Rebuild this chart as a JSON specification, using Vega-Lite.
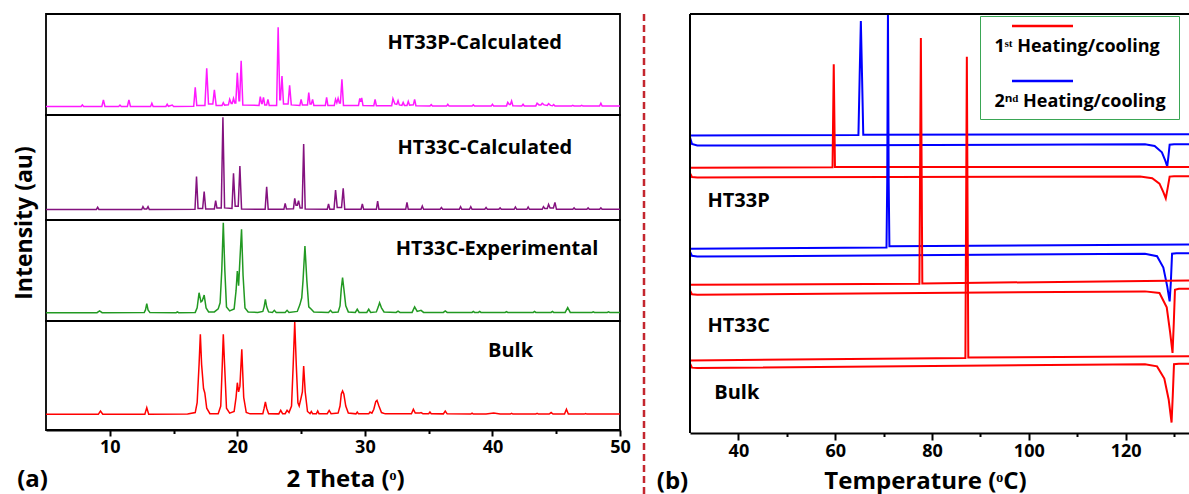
{
  "$schema": "https://vega.github.io/schema/vega-lite/v6.json",
  "padding": {"left": 12, "top": 0, "right": 0, "bottom": 0},
  "config": {
    "font": "Open Sans",
    "view": {"stroke": "#000", "strokeWidth": 1.8},
    "axis": {
      "labelFont": "Open Sans", "labelFontWeight": "bold", "labelFontSize": 18, "labelColor": "#000",
      "titleFont": "Open Sans", "titleFontWeight": "bold", "titleFontSize": 23, "titleColor": "#000",
      "domainColor": "#000", "domainWidth": 2, "tickColor": "#000", "tickWidth": 2,
      "grid": false, "labelFlush": false, "labelOverlap": false
    },
    "text": {"font": "Open Sans", "fontWeight": "bold", "fontSize": 20, "color": "#000"}
  },
  "datasets": {
    "ht33p_calculated": [
      {"t":5,"i":8.5},{"t":7.75,"i":8.5},{"t":7.85,"i":10},{"t":7.95,"i":8.5},{"t":9.38,"i":8.5},{"t":9.5,"i":15},{"t":9.62,"i":8.5},
      {"t":10.7,"i":8.5},{"t":10.8,"i":9.8},{"t":10.9,"i":8.5},{"t":11.38,"i":8.5},{"t":11.5,"i":15},{"t":11.62,"i":8.5},
      {"t":13.2,"i":8.5},{"t":13.3,"i":11.6},{"t":13.4,"i":8.5},{"t":14.4,"i":8.5},{"t":14.5,"i":10.6},{"t":14.6,"i":8.6},{"t":14.9,"i":9.8},{"t":15.0,"i":8.5},
      {"t":16.58,"i":8.6},{"t":16.7,"i":27.4},{"t":16.82,"i":9.5},{"t":17.46,"i":9.5},{"t":17.6,"i":46.2},{"t":17.74,"i":11},{"t":18.08,"i":11},{"t":18.2,"i":24.8},{"t":18.34,"i":9.5},
      {"t":18.8,"i":9.5},{"t":18.9,"i":12.2},{"t":19.0,"i":9.8},{"t":19.3,"i":10},{"t":19.4,"i":15.5},{"t":19.52,"i":11.5},{"t":19.6,"i":11.5},{"t":19.7,"i":16.5},{"t":19.8,"i":12},{"t":19.88,"i":12},
      {"t":20.0,"i":41.9},{"t":20.13,"i":14},{"t":20.18,"i":14},{"t":20.3,"i":53.8},{"t":20.43,"i":9.8},
      {"t":21.7,"i":9.5},{"t":21.8,"i":18.2},{"t":21.9,"i":11.5},{"t":21.95,"i":11.5},{"t":22.05,"i":17.5},{"t":22.15,"i":10},{"t":22.3,"i":10},{"t":22.4,"i":15.5},{"t":22.5,"i":9.5},
      {"t":23.08,"i":9.5},{"t":23.2,"i":86.8},{"t":23.33,"i":15},{"t":23.38,"i":15},{"t":23.5,"i":38.6},{"t":23.62,"i":11},{"t":23.98,"i":11},{"t":24.1,"i":29.4},{"t":24.23,"i":10},
      {"t":24.9,"i":9.5},{"t":25.0,"i":15.5},{"t":25.1,"i":10},{"t":25.5,"i":10},{"t":25.6,"i":22.1},{"t":25.7,"i":11},{"t":25.8,"i":11},{"t":25.9,"i":15.5},{"t":26.0,"i":9.5},
      {"t":26.9,"i":9.5},{"t":27.0,"i":17.5},{"t":27.1,"i":9.5},{"t":27.6,"i":9.5},{"t":27.7,"i":15.5},{"t":27.8,"i":12},{"t":27.9,"i":16.5},{"t":28.0,"i":12},{"t":28.08,"i":12},{"t":28.2,"i":35.3},{"t":28.32,"i":9.5},
      {"t":29.5,"i":9.5},{"t":29.6,"i":16.5},{"t":29.68,"i":13},{"t":29.75,"i":17},{"t":29.85,"i":9.5},{"t":30.7,"i":9.2},{"t":30.8,"i":15.5},{"t":30.9,"i":9.2},
      {"t":32.1,"i":9.2},{"t":32.2,"i":16.2},{"t":32.35,"i":11},{"t":32.5,"i":10.5},{"t":32.6,"i":14.2},{"t":32.7,"i":10},{"t":32.9,"i":9.5},{"t":33.0,"i":12.5},{"t":33.1,"i":9.5},
      {"t":33.3,"i":9.5},{"t":33.4,"i":13.5},{"t":33.5,"i":9.8},{"t":33.8,"i":10},{"t":33.9,"i":15.5},{"t":34.0,"i":9.2},{"t":35.1,"i":8.8},{"t":35.2,"i":10.2},{"t":35.3,"i":8.8},
      {"t":36.4,"i":8.8},{"t":36.5,"i":10.6},{"t":36.6,"i":8.8},{"t":38.4,"i":8.8},{"t":38.5,"i":10},{"t":38.6,"i":8.8},{"t":39.9,"i":8.8},{"t":40.0,"i":10.6},{"t":40.1,"i":8.8},
      {"t":41.1,"i":9},{"t":41.2,"i":12.5},{"t":41.32,"i":10.5},{"t":41.4,"i":10.5},{"t":41.5,"i":13.9},{"t":41.6,"i":9.2},{"t":42.3,"i":9},{"t":42.4,"i":10.6},{"t":42.5,"i":9},
      {"t":43.4,"i":9},{"t":43.5,"i":11.6},{"t":43.65,"i":10},{"t":43.8,"i":10},{"t":43.9,"i":11.6},{"t":44.05,"i":10},{"t":44.3,"i":9.5},{"t":44.4,"i":11.3},{"t":44.55,"i":9.5},
      {"t":44.7,"i":9.2},{"t":44.8,"i":10.3},{"t":44.9,"i":9},{"t":46.2,"i":8.8},{"t":46.3,"i":9.6},{"t":46.4,"i":8.8},{"t":46.9,"i":8.8},{"t":47.0,"i":9.6},{"t":47.1,"i":8.8},
      {"t":48.4,"i":8.8},{"t":48.5,"i":11.6},{"t":48.6,"i":8.8},{"t":50,"i":8.8}
    ],
    "ht33c_calculated": [
      {"t":5,"i":10},{"t":8.95,"i":10},{"t":9.05,"i":12.1},{"t":9.15,"i":10},{"t":12.5,"i":10},{"t":12.6,"i":12.7},{"t":12.7,"i":10.5},{"t":12.9,"i":10.5},{"t":13.0,"i":12.7},{"t":13.1,"i":10},
      {"t":16.68,"i":10.2},{"t":16.8,"i":41.3},{"t":16.92,"i":11},{"t":17.28,"i":11},{"t":17.4,"i":27},{"t":17.52,"i":10.5},{"t":18.2,"i":10.5},{"t":18.3,"i":18.4},{"t":18.4,"i":11.5},
      {"t":18.74,"i":11.5},{"t":18.87,"i":97.8},{"t":19.0,"i":11.5},{"t":19.58,"i":11},{"t":19.7,"i":44.4},{"t":19.83,"i":13},{"t":20.07,"i":13},{"t":20.2,"i":51.4},{"t":20.33,"i":10.5},
      {"t":22.18,"i":10.2},{"t":22.3,"i":31.7},{"t":22.42,"i":10.2},{"t":23.65,"i":10.2},{"t":23.75,"i":15.9},{"t":23.85,"i":10.5},{"t":24.4,"i":10.8},{"t":24.5,"i":20.6},{"t":24.6,"i":14},
      {"t":24.7,"i":14},{"t":24.8,"i":18.4},{"t":24.92,"i":11.5},{"t":25.08,"i":11.5},{"t":25.2,"i":72.4},{"t":25.32,"i":10.5},{"t":27.05,"i":10.2},{"t":27.15,"i":15.2},{"t":27.25,"i":10.2},
      {"t":27.58,"i":10.2},{"t":27.7,"i":28.6},{"t":27.83,"i":12},{"t":28.17,"i":12},{"t":28.3,"i":30.2},{"t":28.42,"i":10.2},{"t":29.7,"i":10.2},{"t":29.8,"i":15.2},{"t":29.9,"i":10.2},
      {"t":30.9,"i":10.2},{"t":31.0,"i":18.1},{"t":31.1,"i":10.2},{"t":33.2,"i":10.2},{"t":33.3,"i":16.8},{"t":33.4,"i":10.2},{"t":34.4,"i":10.2},{"t":34.5,"i":13.3},{"t":34.6,"i":10.2},
      {"t":35.9,"i":10.2},{"t":36.0,"i":11.8},{"t":36.1,"i":10.2},{"t":37.4,"i":10.2},{"t":37.5,"i":12.7},{"t":37.6,"i":10.2},{"t":38.2,"i":10.2},{"t":38.3,"i":12.7},{"t":38.4,"i":10.2},
      {"t":39.4,"i":10.2},{"t":39.5,"i":11.8},{"t":39.6,"i":10.2},{"t":40.5,"i":10.2},{"t":40.6,"i":11.5},{"t":40.7,"i":10.2},{"t":41.7,"i":10.2},{"t":41.8,"i":12.4},{"t":41.9,"i":10.2},
      {"t":42.7,"i":10.2},{"t":42.8,"i":12.4},{"t":42.9,"i":10.2},{"t":43.9,"i":10.2},{"t":44.0,"i":12.7},{"t":44.1,"i":11},{"t":44.3,"i":11},{"t":44.4,"i":14.9},{"t":44.52,"i":11.5},
      {"t":44.78,"i":11.5},{"t":44.9,"i":16.8},{"t":45.02,"i":10.2},{"t":46.3,"i":10.2},{"t":46.4,"i":11.5},{"t":46.5,"i":10.2},{"t":47.4,"i":10.2},{"t":47.5,"i":11.5},{"t":47.6,"i":10.2},
      {"t":48.4,"i":10.2},{"t":48.5,"i":11.5},{"t":48.6,"i":10.2},{"t":50,"i":10.2}
    ],
    "ht33c_experimental": [
      {"t":5,"i":8.2},{"t":9.0,"i":8.2},{"t":9.2,"i":9.9},{"t":9.4,"i":8.2},{"t":12.7,"i":8.3},{"t":12.8,"i":11},{"t":12.9,"i":17.2},{"t":13.0,"i":11},{"t":13.15,"i":8.3},
      {"t":15.2,"i":8.2},{"t":15.3,"i":9},{"t":15.4,"i":8.2},{"t":16.7,"i":8.5},{"t":16.85,"i":13},{"t":17.0,"i":28},{"t":17.15,"i":19},{"t":17.25,"i":20},{"t":17.4,"i":25.7},{"t":17.55,"i":13},{"t":17.75,"i":9},
      {"t":18.2,"i":9},{"t":18.5,"i":12},{"t":18.65,"i":18},{"t":18.78,"i":50},{"t":18.9,"i":97.3},{"t":19.02,"i":50},{"t":19.15,"i":14},{"t":19.4,"i":10},
      {"t":19.75,"i":12},{"t":19.9,"i":30},{"t":20.0,"i":49.5},{"t":20.1,"i":35},{"t":20.2,"i":60},{"t":20.33,"i":90.8},{"t":20.45,"i":45},{"t":20.6,"i":13},{"t":20.85,"i":9},
      {"t":21.6,"i":8.5},{"t":22.0,"i":9.5},{"t":22.1,"i":14},{"t":22.2,"i":21.5},{"t":22.3,"i":14},{"t":22.45,"i":9},{"t":22.75,"i":8.5},{"t":22.9,"i":10.6},{"t":23.05,"i":8.5},
      {"t":23.75,"i":8.5},{"t":23.9,"i":10.6},{"t":24.05,"i":8.5},{"t":24.7,"i":9.5},{"t":24.9,"i":16},{"t":25.05,"i":23},{"t":25.15,"i":40},{"t":25.3,"i":74.3},{"t":25.45,"i":40},{"t":25.6,"i":14},{"t":25.8,"i":11.6},{"t":26.0,"i":8.8},
      {"t":27.15,"i":8.5},{"t":27.3,"i":10.6},{"t":27.45,"i":8.5},{"t":27.9,"i":8.8},{"t":28.05,"i":15},{"t":28.15,"i":32},{"t":28.25,"i":42.9},{"t":28.35,"i":32},{"t":28.5,"i":15},{"t":28.7,"i":9},
      {"t":29.25,"i":8.5},{"t":29.4,"i":11.6},{"t":29.55,"i":8.5},{"t":30.15,"i":8.5},{"t":30.3,"i":11.6},{"t":30.45,"i":8.5},{"t":30.9,"i":9},{"t":31.05,"i":14},{"t":31.15,"i":18.1},{"t":31.3,"i":13},{"t":31.5,"i":9},
      {"t":32.45,"i":8.5},{"t":32.6,"i":9.8},{"t":32.75,"i":8.5},{"t":33.7,"i":8.5},{"t":33.9,"i":13.9},{"t":34.1,"i":9.5},{"t":34.4,"i":10.5},{"t":34.6,"i":8.5},
      {"t":36.15,"i":8.5},{"t":36.3,"i":10},{"t":36.45,"i":8.5},{"t":38.4,"i":8.5},{"t":38.5,"i":9.5},{"t":38.6,"i":8.5},{"t":38.9,"i":8.5},{"t":39.0,"i":9.5},{"t":39.1,"i":8.5},
      {"t":41.0,"i":8.5},{"t":41.1,"i":9.3},{"t":41.2,"i":8.5},{"t":43.2,"i":8.5},{"t":43.3,"i":9.5},{"t":43.4,"i":8.5},{"t":44.6,"i":8.5},{"t":44.7,"i":9.5},{"t":44.8,"i":8.5},
      {"t":45.7,"i":8.5},{"t":45.9,"i":13.2},{"t":46.1,"i":8.5},{"t":47.8,"i":8.4},{"t":47.9,"i":9},{"t":48.0,"i":8.4},{"t":49.0,"i":8.4},{"t":49.1,"i":9},{"t":49.2,"i":8.4},{"t":50,"i":8.4}
    ],
    "bulk_xrd": [
      {"t":5,"i":14.4},{"t":9.1,"i":14.4},{"t":9.27,"i":17.4},{"t":9.45,"i":14.4},{"t":12.75,"i":14.4},{"t":12.9,"i":20.5},{"t":13.05,"i":14.4},
      {"t":16.1,"i":14.6},{"t":16.7,"i":16},{"t":16.85,"i":25},{"t":17.0,"i":60},{"t":17.1,"i":87.8},{"t":17.2,"i":60},{"t":17.35,"i":38},{"t":17.45,"i":34},{"t":17.6,"i":20},{"t":17.85,"i":15},
      {"t":18.5,"i":15},{"t":18.7,"i":22},{"t":18.82,"i":60},{"t":18.9,"i":87.8},{"t":19.0,"i":60},{"t":19.15,"i":20},{"t":19.4,"i":15.5},
      {"t":19.75,"i":17},{"t":19.9,"i":30},{"t":20.0,"i":43.4},{"t":20.1,"i":35},{"t":20.2,"i":40},{"t":20.35,"i":74},{"t":20.5,"i":30},{"t":20.7,"i":16},{"t":21.0,"i":14.8},
      {"t":22.0,"i":15},{"t":22.1,"i":20},{"t":22.2,"i":25.7},{"t":22.3,"i":20},{"t":22.45,"i":15},{"t":23.25,"i":14.8},{"t":23.4,"i":18},{"t":23.55,"i":15},{"t":23.75,"i":15},{"t":23.9,"i":18},
      {"t":24.05,"i":16},{"t":24.25,"i":22},{"t":24.38,"i":60},{"t":24.5,"i":99},{"t":24.62,"i":60},{"t":24.75,"i":25},{"t":24.85,"i":22},{"t":25.0,"i":29.6},{"t":25.1,"i":35},{"t":25.2,"i":58.7},{"t":25.32,"i":35},{"t":25.5,"i":17},
      {"t":25.7,"i":15},{"t":25.8,"i":17},{"t":25.9,"i":15},{"t":26.2,"i":15},{"t":26.3,"i":17.4},{"t":26.4,"i":15},{"t":27.05,"i":15},{"t":27.2,"i":18},{"t":27.35,"i":15},
      {"t":27.9,"i":15.5},{"t":28.05,"i":22},{"t":28.15,"i":33},{"t":28.25,"i":35.8},{"t":28.35,"i":33},{"t":28.5,"i":22},{"t":28.7,"i":15.5},
      {"t":29.3,"i":14.8},{"t":29.4,"i":16.5},{"t":29.5,"i":14.8},{"t":30.3,"i":14.8},{"t":30.4,"i":16.5},{"t":30.55,"i":15.5},{"t":30.7,"i":19},{"t":30.85,"i":26},{"t":30.95,"i":27.2},{"t":31.1,"i":22},{"t":31.3,"i":16},{"t":31.6,"i":14.8},
      {"t":33.65,"i":14.8},{"t":33.8,"i":19},{"t":33.95,"i":15.5},{"t":34.3,"i":15.5},{"t":34.4,"i":16},{"t":34.55,"i":15},{"t":35.0,"i":15},{"t":35.1,"i":16.5},{"t":35.2,"i":15},
      {"t":36.15,"i":14.8},{"t":36.3,"i":17.4},{"t":36.45,"i":14.8},{"t":38.3,"i":14.6},{"t":38.4,"i":15.5},{"t":38.5,"i":14.6},{"t":39.5,"i":14.6},{"t":40.1,"i":15.5},{"t":40.6,"i":14.6},
      {"t":41.4,"i":14.6},{"t":41.5,"i":15.2},{"t":41.6,"i":14.6},{"t":43.4,"i":14.6},{"t":43.5,"i":15.2},{"t":43.6,"i":14.6},{"t":44.45,"i":14.6},{"t":44.6,"i":16},{"t":44.75,"i":14.6},
      {"t":45.65,"i":14.6},{"t":45.8,"i":19},{"t":45.95,"i":14.6},{"t":47.2,"i":14.6},{"t":47.3,"i":15},{"t":47.4,"i":14.6},{"t":50,"i":14.6}
    ],
    "dsc": [
      {"curve":"HT33P cooling 2","run":"2nd","t":30,"hf":71.0},{"curve":"HT33P cooling 2","run":"2nd","t":64.8,"hf":71.1},{"curve":"HT33P cooling 2","run":"2nd","t":65.05,"hf":85},{"curve":"HT33P cooling 2","run":"2nd","t":65.3,"hf":98.3},{"curve":"HT33P cooling 2","run":"2nd","t":65.55,"hf":85},{"curve":"HT33P cooling 2","run":"2nd","t":65.8,"hf":71.2},{"curve":"HT33P cooling 2","run":"2nd","t":133.1,"hf":71.3},
      {"curve":"HT33P heating 2","run":"2nd","t":30,"hf":70.6},{"curve":"HT33P heating 2","run":"2nd","t":30.4,"hf":69.0},{"curve":"HT33P heating 2","run":"2nd","t":31.5,"hf":68.6},{"curve":"HT33P heating 2","run":"2nd","t":124,"hf":68.9},{"curve":"HT33P heating 2","run":"2nd","t":126,"hf":68.5},{"curve":"HT33P heating 2","run":"2nd","t":127.5,"hf":67},{"curve":"HT33P heating 2","run":"2nd","t":128.2,"hf":65},{"curve":"HT33P heating 2","run":"2nd","t":128.6,"hf":63.6},{"curve":"HT33P heating 2","run":"2nd","t":128.85,"hf":66},{"curve":"HT33P heating 2","run":"2nd","t":129.1,"hf":68.8},{"curve":"HT33P heating 2","run":"2nd","t":130,"hf":68.9},{"curve":"HT33P heating 2","run":"2nd","t":133.1,"hf":68.9},
      {"curve":"HT33P cooling 1","run":"1st","t":30,"hf":63.3},{"curve":"HT33P cooling 1","run":"1st","t":59.45,"hf":63.4},{"curve":"HT33P cooling 1","run":"1st","t":59.7,"hf":88.0},{"curve":"HT33P cooling 1","run":"1st","t":59.95,"hf":63.5},{"curve":"HT33P cooling 1","run":"1st","t":133.1,"hf":63.5},
      {"curve":"HT33P heating 1","run":"1st","t":30,"hf":62.0},{"curve":"HT33P heating 1","run":"1st","t":30.4,"hf":61.1},{"curve":"HT33P heating 1","run":"1st","t":31.5,"hf":61.0},{"curve":"HT33P heating 1","run":"1st","t":123,"hf":61.2},{"curve":"HT33P heating 1","run":"1st","t":125.5,"hf":60.8},{"curve":"HT33P heating 1","run":"1st","t":127,"hf":59.5},{"curve":"HT33P heating 1","run":"1st","t":127.8,"hf":57.5},{"curve":"HT33P heating 1","run":"1st","t":128.3,"hf":56.0},{"curve":"HT33P heating 1","run":"1st","t":128.7,"hf":58.5},{"curve":"HT33P heating 1","run":"1st","t":129.1,"hf":61.2},{"curve":"HT33P heating 1","run":"1st","t":130,"hf":61.3},{"curve":"HT33P heating 1","run":"1st","t":133.1,"hf":61.3},
      {"curve":"HT33C cooling 2","run":"2nd","t":30,"hf":44.0},{"curve":"HT33C cooling 2","run":"2nd","t":70.6,"hf":44.3},{"curve":"HT33C cooling 2","run":"2nd","t":70.75,"hf":60},{"curve":"HT33C cooling 2","run":"2nd","t":70.9,"hf":100.5},{"curve":"HT33C cooling 2","run":"2nd","t":71.05,"hf":60},{"curve":"HT33C cooling 2","run":"2nd","t":71.2,"hf":44.6},{"curve":"HT33C cooling 2","run":"2nd","t":133.1,"hf":45.0},
      {"curve":"HT33C heating 2","run":"2nd","t":30,"hf":43.3},{"curve":"HT33C heating 2","run":"2nd","t":30.4,"hf":42.3},{"curve":"HT33C heating 2","run":"2nd","t":31.5,"hf":42.1},{"curve":"HT33C heating 2","run":"2nd","t":124,"hf":42.8},{"curve":"HT33C heating 2","run":"2nd","t":126.5,"hf":42.2},{"curve":"HT33C heating 2","run":"2nd","t":127.8,"hf":39.5},{"curve":"HT33C heating 2","run":"2nd","t":128.6,"hf":35},{"curve":"HT33C heating 2","run":"2nd","t":129.1,"hf":31.4},{"curve":"HT33C heating 2","run":"2nd","t":129.35,"hf":36},{"curve":"HT33C heating 2","run":"2nd","t":129.6,"hf":42.8},{"curve":"HT33C heating 2","run":"2nd","t":130.5,"hf":42.9},{"curve":"HT33C heating 2","run":"2nd","t":133.1,"hf":42.9},
      {"curve":"HT33C cooling 1","run":"1st","t":30,"hf":35.4},{"curve":"HT33C cooling 1","run":"1st","t":77.4,"hf":35.6},{"curve":"HT33C cooling 1","run":"1st","t":77.7,"hf":94.3},{"curve":"HT33C cooling 1","run":"1st","t":78.0,"hf":35.7},{"curve":"HT33C cooling 1","run":"1st","t":133.1,"hf":36.4},
      {"curve":"HT33C heating 1","run":"1st","t":30,"hf":34.0},{"curve":"HT33C heating 1","run":"1st","t":30.4,"hf":33.1},{"curve":"HT33C heating 1","run":"1st","t":31.5,"hf":33.0},{"curve":"HT33C heating 1","run":"1st","t":124,"hf":33.8},{"curve":"HT33C heating 1","run":"1st","t":127,"hf":33.4},{"curve":"HT33C heating 1","run":"1st","t":128.5,"hf":30},{"curve":"HT33C heating 1","run":"1st","t":129.2,"hf":24},{"curve":"HT33C heating 1","run":"1st","t":129.7,"hf":19.1},{"curve":"HT33C heating 1","run":"1st","t":129.95,"hf":26},{"curve":"HT33C heating 1","run":"1st","t":130.2,"hf":34.2},{"curve":"HT33C heating 1","run":"1st","t":131,"hf":34.4},{"curve":"HT33C heating 1","run":"1st","t":133.1,"hf":34.4},
      {"curve":"Bulk cooling 1","run":"1st","t":30,"hf":17.3},{"curve":"Bulk cooling 1","run":"1st","t":86.9,"hf":17.9},{"curve":"Bulk cooling 1","run":"1st","t":87.2,"hf":89.8},{"curve":"Bulk cooling 1","run":"1st","t":87.5,"hf":18.0},{"curve":"Bulk cooling 1","run":"1st","t":133.1,"hf":18.3},
      {"curve":"Bulk heating 1","run":"1st","t":30,"hf":16.6},{"curve":"Bulk heating 1","run":"1st","t":30.4,"hf":15.6},{"curve":"Bulk heating 1","run":"1st","t":31.5,"hf":15.5},{"curve":"Bulk heating 1","run":"1st","t":124,"hf":16.4},{"curve":"Bulk heating 1","run":"1st","t":126.5,"hf":15.9},{"curve":"Bulk heating 1","run":"1st","t":128,"hf":13},{"curve":"Bulk heating 1","run":"1st","t":128.9,"hf":8},{"curve":"Bulk heating 1","run":"1st","t":129.5,"hf":2.5},{"curve":"Bulk heating 1","run":"1st","t":129.75,"hf":9},{"curve":"Bulk heating 1","run":"1st","t":130.0,"hf":16.4},{"curve":"Bulk heating 1","run":"1st","t":131,"hf":16.5},{"curve":"Bulk heating 1","run":"1st","t":133.1,"hf":16.5}
    ]
  },
  "concat": [
    {
      "title": {"text": " ", "fontSize": 2, "offset": 11},
      "spacing": 0,
      "bounds": "flush",
      "vconcat": [
        {
          "width": 574, "height": 101,
          "encoding": {
            "x": {"field": "t", "type": "quantitative", "scale": {"domain": [5, 50], "nice": false, "zero": false}, "axis": null},
            "y": {"field": "i", "type": "quantitative", "scale": {"domain": [0, 100], "nice": false, "zero": false}, "axis": null}
          },
          "layer": [
            {"data": {"name": "ht33p_calculated"}, "mark": {"type": "line", "color": "#ff19ff", "strokeWidth": 1.5}},
            {"data": {"values": [{"label": "HT33P-Calculated", "t": 31.77, "i": 71.6}]}, "mark": {"type": "text", "align": "left", "baseline": "middle"}, "encoding": {"text": {"field": "label"}}}
          ]
        },
        {
          "width": 574, "height": 105,
          "encoding": {
            "x": {"field": "t", "type": "quantitative", "scale": {"domain": [5, 50], "nice": false, "zero": false}, "axis": null},
            "y": {"field": "i", "type": "quantitative", "scale": {"domain": [0, 100], "nice": false, "zero": false},
                  "axis": {"title": "Intensity (au)", "labels": false, "ticks": false, "domain": false, "titleX": -22, "titleY": 107.5, "titleAngle": -90, "titleAlign": "center", "titleBaseline": "middle"}}
          },
          "layer": [
            {"data": {"name": "ht33c_calculated"}, "mark": {"type": "line", "color": "#84127f", "strokeWidth": 1.5}},
            {"data": {"values": [{"label": "HT33C-Calculated", "t": 32.56, "i": 68.9}]}, "mark": {"type": "text", "align": "left", "baseline": "middle"}, "encoding": {"text": {"field": "label"}}}
          ]
        },
        {
          "width": 574, "height": 101,
          "encoding": {
            "x": {"field": "t", "type": "quantitative", "scale": {"domain": [5, 50], "nice": false, "zero": false}, "axis": null},
            "y": {"field": "i", "type": "quantitative", "scale": {"domain": [0, 100], "nice": false, "zero": false}, "axis": null}
          },
          "layer": [
            {"data": {"name": "ht33c_experimental"}, "mark": {"type": "line", "color": "#229922", "strokeWidth": 1.5}},
            {"data": {"values": [{"label": "HT33C-Experimental", "t": 32.41, "i": 71.3}]}, "mark": {"type": "text", "align": "left", "baseline": "middle"}, "encoding": {"text": {"field": "label"}}}
          ]
        },
        {
          "width": 574, "height": 109,
          "encoding": {
            "y": {"field": "i", "type": "quantitative", "scale": {"domain": [0, 100], "nice": false, "zero": false}, "axis": null}
          },
          "layer": [
            {"data": {"name": "bulk_xrd"}, "mark": {"type": "line", "color": "#ff0000", "strokeWidth": 1.5},
             "encoding": {"x": {"field": "t", "type": "quantitative", "scale": {"domain": [5, 50], "nice": false, "zero": false},
               "axis": {"values": [10, 20, 30, 40, 50], "tickSize": 6, "labelPadding": 2, "title": "2 Theta (ᵒ)", "titleFontSize": 24, "titleX": 299, "titleY": 49, "titleAlign": "center", "titleBaseline": "middle"}}}},
            {"data": {"values": [{"label": "Bulk", "t": 39.65, "i": 72.5}]}, "mark": {"type": "text", "align": "left", "baseline": "middle"},
             "encoding": {"text": {"field": "label"},
               "x": {"field": "t", "type": "quantitative", "scale": {"domain": [5, 50], "nice": false, "zero": false},
                 "axis": {"orient": "bottom", "values": [15, 25, 35, 45], "tickSize": 3.5, "labels": false, "domain": false, "title": "(a)", "titleFontSize": 24, "titleX": -14, "titleY": 49, "titleAlign": "center", "titleBaseline": "middle"}}}}
          ],
          "resolve": {"scale": {"x": "independent"}}
        }
      ]
    },
    {
      "width": 2, "height": 494,
      "view": {"stroke": null},
      "data": {"values": [{"at": 0.5}]},
      "mark": {"type": "rule", "color": "#c4262e", "strokeWidth": 2.5, "strokeDash": [7, 4]},
      "encoding": {"x": {"field": "at", "type": "quantitative", "scale": {"domain": [0, 1]}, "axis": null}}
    },
    {
      "title": {"text": " ", "fontSize": 2, "offset": 11},
      "width": 499, "height": 419,
      "view": {"stroke": null},
      "layer": [
        {
          "data": {"name": "dsc"},
          "mark": {"type": "line", "strokeWidth": 2, "clip": true},
          "encoding": {
            "x": {"field": "t", "type": "quantitative", "scale": {"domain": [30, 133.1], "nice": false, "zero": false},
                  "axis": {"values": [40, 60, 80, 100, 120], "tickSize": 7, "labelPadding": 2, "title": "Temperature (ᵒC)", "titleFontSize": 24, "titleX": 235, "titleY": 48, "titleAlign": "center", "titleBaseline": "middle"}},
            "y": {"field": "hf", "type": "quantitative", "scale": {"domain": [0, 100], "nice": false, "zero": false},
                  "axis": {"title": "Heat Flow (mw)", "labels": false, "ticks": false, "domain": false, "titleX": -25, "titleY": 209.5, "titleAngle": -90, "titleAlign": "center", "titleBaseline": "middle"}},
            "color": {"field": "run", "type": "nominal", "scale": {"domain": ["1st", "2nd"], "range": ["#ff0000", "#0000ff"]},
                      "legend": {
                        "title": null, "orient": "none", "legendX": 934, "legendY": 2,
                        "symbolType": "stroke", "symbolSize": 3721, "symbolStrokeWidth": 2.5,
                        "labelFont": "Open Sans", "labelFontSize": 18, "labelFontWeight": "bold", "labelColor": "#000", "labelLimit": 300,
                        "labelExpr": "datum.label == '1st' ? '1ˢᵗ Heating/cooling' : '2ⁿᵈ  Heating/cooling'",
                        "strokeColor": "#3aa655", "fillColor": "#ffffff", "padding": 8.5,
                        "rowPadding": 20,
                        "encode": {
                          "symbols": {"update": {"x": {"value": 54}, "y": {"value": 1.5}, "opacity": {"value": 1}}},
                          "labels": {"update": {"x": {"value": 6}, "y": {"value": 22}}}
                        }
                      }},
            "detail": {"field": "curve"}
          }
        },
        {
          "data": {"values": [{"label": "HT33P", "t": 33.6, "hf": 55.4}, {"label": "HT33C", "t": 33.6, "hf": 25.5}, {"label": "Bulk", "t": 35.0, "hf": 9.6}]},
          "mark": {"type": "text", "align": "left", "baseline": "middle"},
          "encoding": {
            "text": {"field": "label"},
            "x": {"field": "t", "type": "quantitative", "scale": {"domain": [30, 133.1], "nice": false, "zero": false},
                  "axis": {"orient": "bottom", "values": [50, 70, 90, 110, 130], "tickSize": 3.5, "labels": false, "domain": false, "title": "(b)", "titleFontSize": 24, "titleX": -18, "titleY": 48, "titleAlign": "center", "titleBaseline": "middle"}},
            "y": {"field": "hf", "type": "quantitative", "axis": null}
          }
        },
        {
          "data": {"values": [{"edge": 100}]},
          "mark": {"type": "rule", "color": "#000", "strokeWidth": 2},
          "encoding": {"y": {"field": "edge", "type": "quantitative", "axis": null}}
        },
        {
          "data": {"values": [{"edge": 30}]},
          "mark": {"type": "rule", "color": "#000", "strokeWidth": 2},
          "encoding": {"x": {"field": "edge", "type": "quantitative", "scale": {"domain": [30, 133.1], "nice": false, "zero": false}, "axis": null}}
        }
      ],
      "resolve": {"scale": {"x": "independent"}}
    }
  ],
  "columns": 3,
  "align": "none",
  "spacing": 10
}
